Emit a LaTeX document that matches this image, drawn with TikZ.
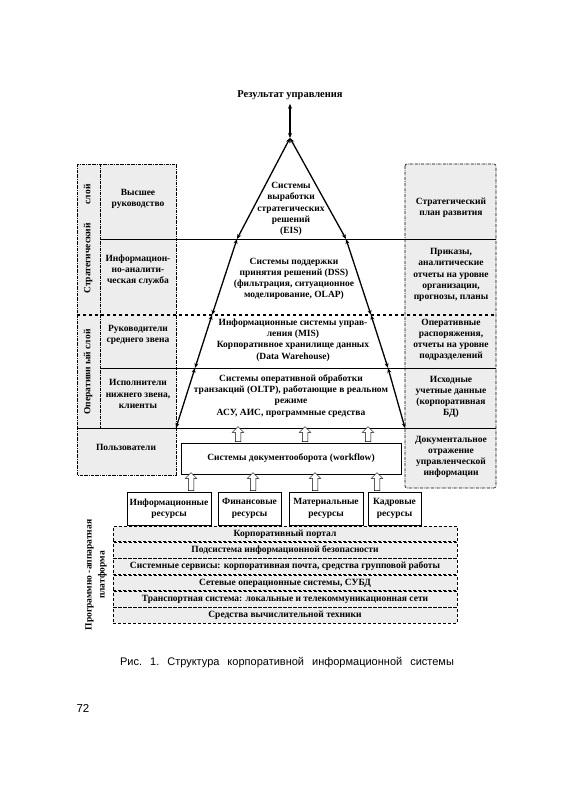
\documentclass[tikz,border=0pt]{standalone}
\usepackage{fontspec}
\setmainfont{Liberation Serif}
\newfontfamily\capfont{Liberation Sans}
\usetikzlibrary{arrows.meta,shapes.arrows,positioning}

\newcommand\dfont{\fontsize{9.5}{11.2}\selectfont\bfseries}

\begin{document}
\begin{tikzpicture}[x=1pt, y=-1pt,
  txt/.style={font=\dfont, align=center, inner sep=0pt},
  colfill/.style={fill=gray!14},
  colrule/.style={line width=0.6pt, densely dash dot},
  level/.style={line width=0.6pt},
  side/.style={line width=1.3pt, {Stealth[length=5pt,width=4pt]}-{Stealth[length=5pt,width=4pt]}},
  resbox/.style={draw, fill=white, line width=0.5pt, minimum height=33pt, inner sep=1pt, font=\dfont, align=center},
  layer/.style={draw, densely dashed, line width=0.8pt, fill=gray!14, minimum width=344pt, minimum height=15.5pt, inner sep=0pt, font=\dfont},
  hollow/.style={single arrow, draw, fill=white, line width=0.5pt, shape border rotate=90, inner sep=2.5pt, single arrow head extend=3pt, minimum height=#1}
]
\useasboundingbox (0,0) rectangle (560,793);

% Side columns
\draw[colrule, colfill] (77,164) rectangle (176,475);
\draw[colrule] (100,164) -- (100,428);
\draw[colrule, colfill, rounded corners=2pt] (405,164) rectangle (496,488);

% Levels
\draw[level] (100,239) -- (496,239);
\draw[line width=1.2pt, dashed] (77,315) -- (496,315);
\draw[level] (100,368) -- (496,368);
\draw[level] (77,428) -- (496,428);

% Result
\node[txt, font=\fontsize{10.5}{12}\selectfont\bfseries] (res) at (290,95) {Результат управления};

% Pyramid
\coordinate (apex) at (290,138);
\coordinate (l1) at (237,239);
\coordinate (l2) at (212,315);
\coordinate (l3) at (195,368);
\coordinate (l4) at (176,428);
\coordinate (r1) at (346,239);
\coordinate (r2) at (371,315);
\coordinate (r3) at (388,368);
\coordinate (r4) at (405,428);
\foreach \a/\b in {apex/l1,l1/l2,l2/l3,l3/l4,apex/r1,r1/r2,r2/r3,r3/r4}
  \draw[side] (\a) -- (\b);
\draw[side, shorten <=4pt] (res.south) -- (apex);

\node[txt] (eis) at (291,209) {Системы\\выработки\\стратегических\\решений\\(EIS)};
\node[txt] (dss) at (294,279) {Системы поддержки\\принятия решений (DSS)\\(фильтрация, ситуационное\\моделирование, OLAP)};
\node[txt] (mis) at (293,340) {Информационные системы управ-\\ления (MIS)\\Корпоративное хранилище данных\\(Data Warehouse)};
\node[txt] (oltp) at (291,396) {Системы оперативной обработки\\транзакций (OLTP), работающие в реальном\\режиме\\[1pt]АСУ, АИС, программные средства};

% Left column
\node[txt, rotate=90] (strat) at (88,239) {Стратегический\hspace{2em}слой};
\node[txt, rotate=90] (oper) at (88,372) {Оперативн ый слой};
\node[txt] (vys) at (138,199) {Высшее\\руководство};
\node[txt] (ias) at (138,270) {Информацион-\\но-аналити-\\ческая служба};
\node[txt] (ruk) at (138,335) {Руководители\\среднего звена};
\node[txt] (isp) at (138,394) {Исполнители\\нижнего звена,\\клиенты};
\node[txt] (pol) at (126,447) {Пользователи};

% Right column
\node[txt] (plan) at (451,208) {Стратегический\\план развития};
\node[txt] (prik) at (451,275) {Приказы,\\аналитические\\отчеты на уровне\\организации,\\прогнозы, планы};
\node[txt] (rasp) at (451,340) {Оперативные\\распоряжения,\\отчеты на уровне\\подразделений};
\node[txt] (ish) at (451,397) {Исходные\\учетные данные\\(корпоративная\\БД)};
\node[txt] (doc) at (451,457) {Документальное\\отражение\\управленческой\\информации};

% Workflow and resources
\node[resbox, minimum width=220pt, minimum height=31pt] (wf) at (291,458.5) {Системы документооборота (workflow)};
\node[resbox, minimum width=84pt] (inf) at (169,508.5) {Информационные\\ресурсы};
\node[resbox, minimum width=63pt] (fin) at (249.5,508.5) {Финансовые\\ресурсы};
\node[resbox, minimum width=74pt] (mat) at (326,508.5) {Материальные\\ресурсы};
\node[resbox, minimum width=53pt] (kad) at (394.5,508.5) {Кадровые\\ресурсы};

\foreach \x in {191,253,315,377}
  \node[hollow=18pt] (up\x) at (\x,483) {};
\foreach \x in {238,305,368}
  \node[hollow=15pt] (top\x) at (\x,435.5) {};

% Platform
\node[layer] (p1) at (285,534) {Корпоративный портал};
\node[layer, below=0pt of p1] (p2) {Подсистема информационной безопасности};
\node[layer, below=0pt of p2] (p3) {Системные сервисы: корпоративная почта, средства групповой работы};
\node[layer, below=0pt of p3] (p4) {Сетевые операционные системы, СУБД};
\node[layer, below=0pt of p4] (p5) {Транспортная система: локальные и телекоммуникационная сети};
\node[layer, below=0pt of p5] (p6) {Средства вычислительной техники};
\node[txt, rotate=90, align=center, font=\fontsize{9.5}{13}\selectfont\bfseries] (plat) at (96,575) {Программно -аппаратная\\платформа};

% Caption
\node[font=\capfont\fontsize{11}{12}\selectfont, inner sep=0pt] (cap) at (287,663) {Рис.\hspace{8pt}1.\hspace{8pt}Структура\hspace{8pt}корпоративной\hspace{8pt}информационной\hspace{8pt}системы};
\node[font=\capfont\fontsize{11.5}{12}\selectfont, inner sep=0pt] (pg) at (83,708) {72};
\end{tikzpicture}
\end{document}
